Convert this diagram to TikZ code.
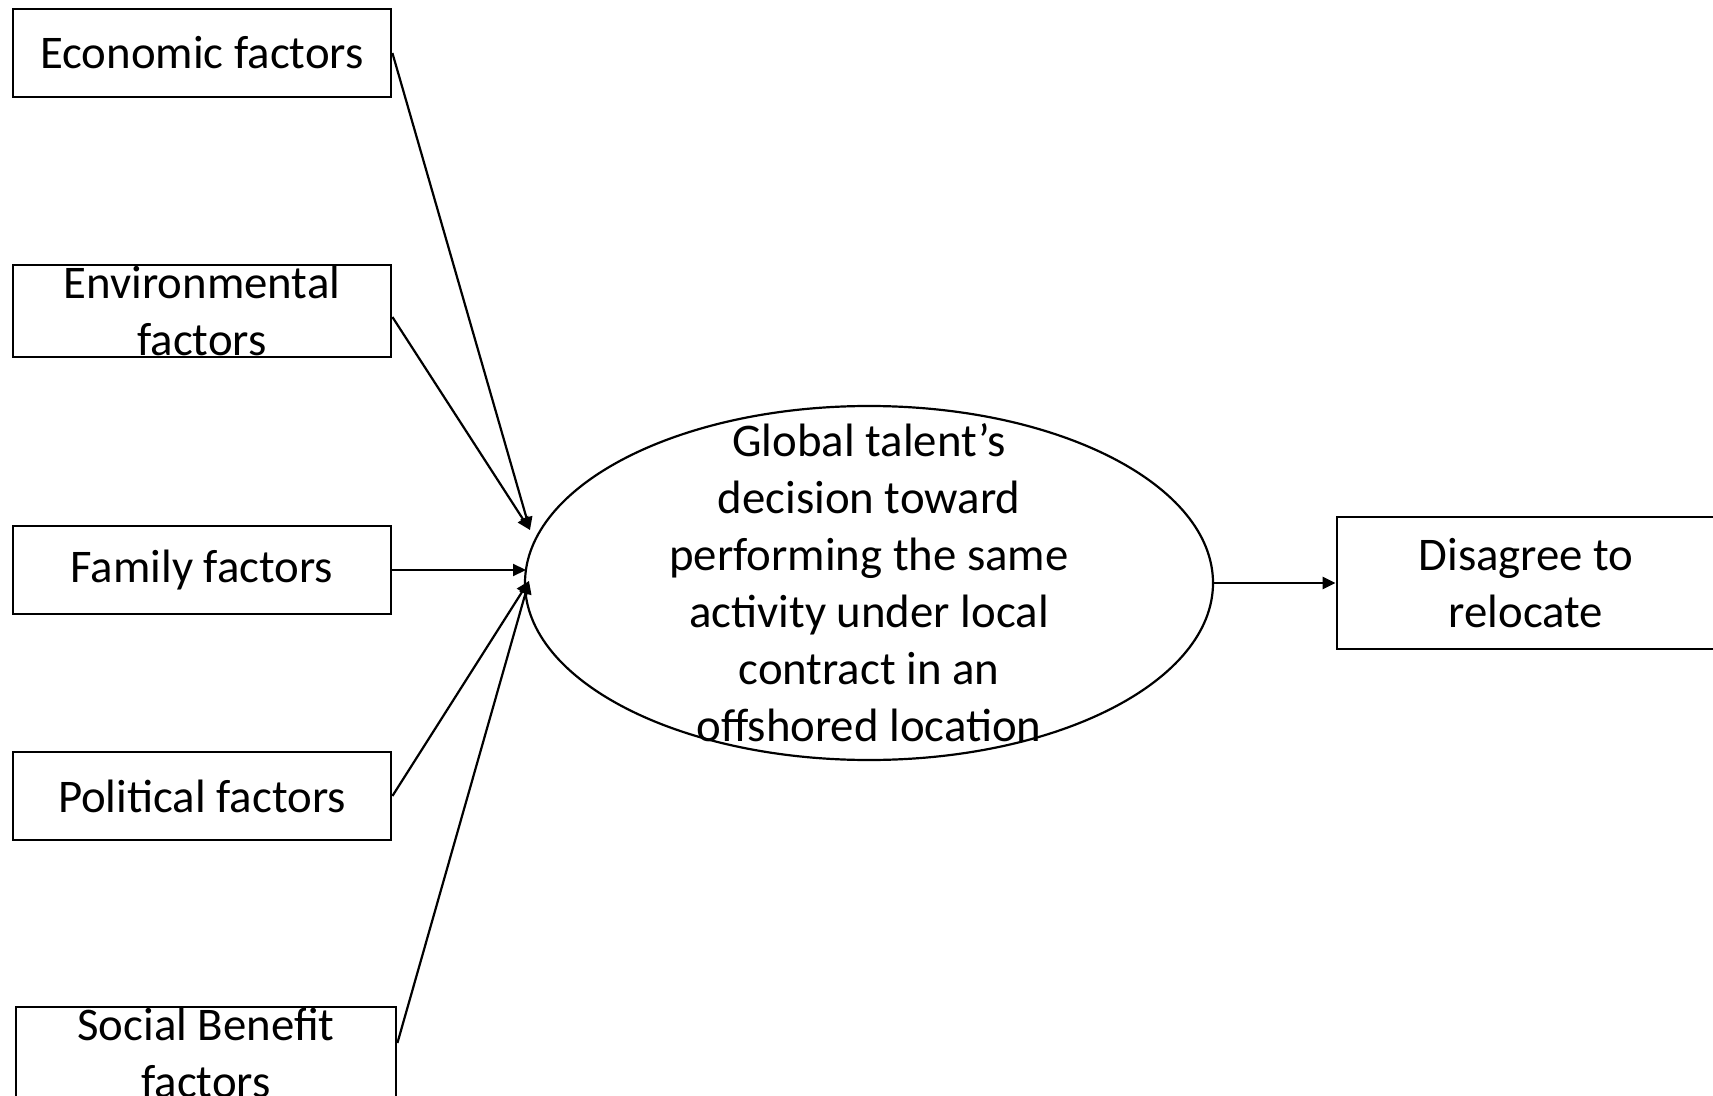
\documentclass[tikz,border=0pt]{standalone}
\usepackage{fontspec}
\setmainfont{Carlito}
\usetikzlibrary{calc, positioning}
\usetikzlibrary{shapes.geometric}
\usetikzlibrary{arrows.meta}

\tikzset{
  factor/.style={draw, line width=1.4pt, inner sep=0pt, minimum width=189pt, minimum height=44pt},
  txt/.style={align=center, inner sep=0pt},
  link/.style={line width=1.1pt, -{Triangle[length=6.5pt, width=6pt]}}
}

\begin{document}
\begin{tikzpicture}[x=0.5pt, y=-0.5pt, font=\fontsize{23.4}{28.5}\selectfont]
\useasboundingbox (0, 0) rectangle (1713, 1096);

\node[factor] (eco) at (202, 53) {Economic factors};
\node[factor, minimum height=46pt, label={[txt]center:Environmental\\factors}] (env) at (202, 311) {};
\node[factor] (fam) at (202, 570) {Family factors};
\node[factor] (pol) at (202, 796) {Political factors};
\node[factor, minimum width=190pt, minimum height=46pt, label={[txt]center:Social Benefit\\factors}] (soc) at (206, 1053) {};

\node[draw, ellipse, line width=1.1pt, inner sep=0pt, minimum width=344pt, minimum height=177pt,
  label={[txt]center:Global talent’s\\decision toward\\performing the same\\activity under local\\contract in an\\offshored location}] (dec) at (869, 583) {};

\node[draw, line width=1.4pt, inner sep=0pt, minimum width=189pt, minimum height=66pt, txt] (dis) at (1526, 583) {Disagree to\\relocate};

\coordinate (inUp) at (530, 530);
\coordinate (inMid) at (526, 570);
\coordinate (inLow) at (529, 581);

\draw[link] (eco.east) -- (inUp);
\draw[link] ($(env.east)+(0, 6)$) -- (inUp);
\draw[link] (fam.east) -- (inMid);
\draw[link] (pol.east) -- (inLow);
\draw[link] ($(soc.east)+(0, -10)$) -- (inLow);
\draw[link] (dec.east) -- (dis.west);

\end{tikzpicture}
\end{document}
